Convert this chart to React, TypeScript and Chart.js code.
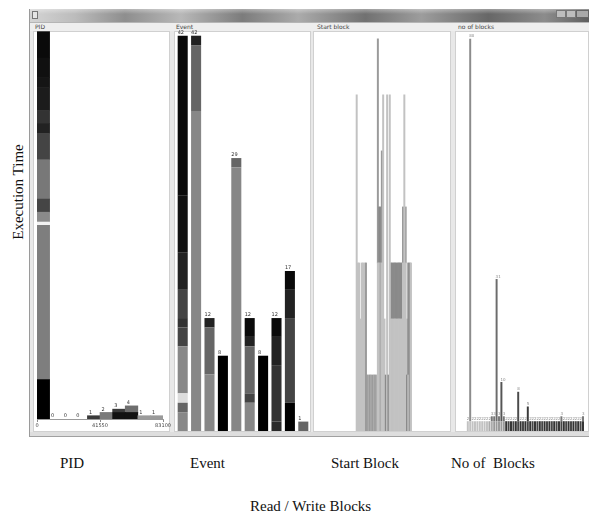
import React, { useEffect, useRef } from 'react';
import { Chart, registerables } from 'chart.js';

Chart.register(...registerables);

// ---------------- DATA ----------------
// PID histogram: 10 bins over 0..83100
const pidAxisMax = 83100;
const pidTickStep = 41550;
const pidBinCount = 10;
// stacked segments per bin (bottom -> top)
const pidSegments: number[][] = [
  [12, 47, 1, 3, 4, 12, 8, 3, 4, 7, 3, 6, 8],
  [],
  [],
  [],
  [1],
  [2],
  [2, 1],
  [2, 2],
  [1],
  [1],
];
const pidShades: string[][] = [
  ['#000000', '#7e7e7e', '#f2f2f2', '#8a8a8a', '#454545', '#787878', '#444444', '#222222', '#333333', '#1c1c1c', '#151515', '#101010', '#0a0a0a'],
  [],
  [],
  [],
  ['#3a3a3a'],
  ['#7a7a7a'],
  ['#111111', '#3a3a3a'],
  ['#111111', '#6e6e6e'],
  ['#9a9a9a'],
  ['#9a9a9a'],
];

// Event: 10 events
const eventNames = ['E1', 'E2', 'E3', 'E4', 'E5', 'E6', 'E7', 'E8', 'E9', 'E10'];
const eventSegments: number[][] = [
  [2, 1, 1, 5, 2, 1, 3, 4, 6, 17],
  [34, 7, 1],
  [6, 5, 1],
  [8],
  [28, 1],
  [3, 1, 5, 1, 2],
  [8],
  [1, 6, 3, 2],
  [3, 9, 3, 2],
  [1],
];
const eventShades: string[][] = [
  ['#888888', '#666666', '#dddddd', '#888888', '#444444', '#333333', '#444444', '#222222', '#111111', '#0a0a0a'],
  ['#878787', '#666666', '#222222'],
  ['#878787', '#666666', '#222222'],
  ['#000000'],
  ['#878787', '#666666'],
  ['#878787', '#444444', '#666666', '#222222', '#0a0a0a'],
  ['#000000'],
  ['#2a2a2a', '#333333', '#222222', '#0a0a0a'],
  ['#000000', '#444444', '#222222', '#0a0a0a'],
  ['#666666'],
];

// Start block histogram (42 occupied bins)
const startLower = [6, 3, 3, 2, 3, 3, 3, 3, 1, 1, 1, 1, 1, 1, 1, 1, 3, 3, 3, 3, 6, 2, 1, 6, 1, 6, 2, 2, 2, 2, 2, 2, 2, 2, 2, 3, 6, 3, 1, 1, 3, 3];
const startUpper = [0, 0, 0, 0, 0, 0, 0, 0, 0, 0, 0, 0, 0, 0, 0, 0, 4, 1, 1, 2, 0, 0, 0, 0, 0, 0, 1, 1, 1, 1, 1, 1, 1, 1, 1, 1, 0, 1, 1, 2, 0, 0];
const startLowerShade = ('LLLLLLL' + 'MMNMNMNMN' + 'LLNLLL' + 'DLDL' + 'LLLLLLLLLLLL' + 'DLML').split('');
const startUpperShade = ('----------------' + 'MDDM' + '------' + 'DDDDDDDDD' + 'M-MLD--').split('');
const startEmptyBefore = 31;
const startEmptyAfter = 29;

// No of blocks histogram (55 bins)
const blocksBase = [
  0, 0, 0, 0, 2, 2, 2, 2, 2, 2,
  2, 2, 2, 2, 2, 2, 2, 2, 2, 2,
  2, 2, 2, 2, 2, 2, 2, 2, 2, 2,
  2, 2, 2, 2, 2, 2, 2, 2, 2, 2,
  2, 2, 2, 2, 2, 2, 2, 2, 2, 2,
  2, 2, 2, 0, 0,
];
const blocksTop = [
  0, 0, 0, 0, 0, 78, 0, 0, 0, 0,
  0, 0, 0, 0, 1, 1, 29, 1, 8, 1,
  0, 0, 0, 0, 0, 6, 0, 0, 0, 3,
  0, 0, 0, 0, 0, 0, 0, 0, 0, 0,
  0, 0, 0, 1, 0, 0, 0, 0, 0, 0,
  0, 0, 1, 0, 0,
];
const blocksBaseShade = ('----' + 'LLLLLLLLL' + 'NN' + 'MMMMM' + 'KJKJKJKJKJKJKJKJKJKJKJKJKJKJKJKJK' + '--').split('');
const blocksTopShade = ('-----T----' + '----SSUSVS' + '-----W---X' + '----------' + '---S------' + '--S--').split('');

const shadePalette: Record<string, string> = {
  L: '#c2c2c2',
  M: '#9a9a9a',
  N: '#ababab',
  D: '#8a8a8a',
  K: '#333333',
  J: '#464646',
  T: '#8c8c8c',
  U: '#6c6c6c',
  V: '#555555',
  W: '#4a4a4a',
  X: '#3a3a3a',
  S: '#777777',
  '-': 'rgba(0,0,0,0)',
};

// ---------------- HELPERS ----------------
const padArr = (arr: any[], before: number, after: number, fill: any) => [
  ...Array(before).fill(fill),
  ...arr,
  ...Array(after).fill(fill),
];

function buildLayers(segments: number[][], shades: string[][], bar: number, xs?: number[]) {
  const depth = Math.max(1, ...segments.map((s) => s.length));
  const ds: any[] = [];
  for (let k = 0; k < depth; k++) {
    ds.push({
      data: segments.map((s, i) => (xs ? { x: xs[i], y: s[k] ?? 0 } : s[k] ?? 0)),
      backgroundColor: shades.map((s) => s[k] ?? 'rgba(0,0,0,0)'),
      borderWidth: 0,
      barPercentage: bar,
      categoryPercentage: 1,
      stack: 's',
    });
  }
  return ds;
}

function labelPlugin(totals: number[], size: number, color: string, dx: number, clip: boolean, skipZero: boolean) {
  return {
    id: 'barLabels',
    afterDatasetsDraw(chart: any) {
      const ctx = chart.ctx;
      const meta = chart.getDatasetMeta(0);
      const yScale = chart.scales.y;
      const area = chart.chartArea;
      ctx.save();
      if (clip) {
        ctx.beginPath();
        ctx.rect(area.left, area.top, area.right - area.left, area.bottom - area.top);
        ctx.clip();
      }
      ctx.font = `${size}px "DejaVu Sans"`;
      ctx.fillStyle = color;
      ctx.textAlign = 'left';
      ctx.textBaseline = 'bottom';
      totals.forEach((t, i) => {
        if (skipZero && t === 0) return;
        const el = meta.data[i];
        if (!el) return;
        const x = el.x - el.width / 2 + dx;
        const y = yScale.getPixelForValue(t) - 0.5;
        ctx.fillText(String(t), x, y);
      });
      ctx.restore();
    },
  };
}

const baseOptions = (ymax: number, padding: any) => ({
  responsive: false,
  maintainAspectRatio: false,
  animation: false,
  events: [],
  layout: { padding },
  plugins: { legend: { display: false }, tooltip: { enabled: false } },
  scales: {
    x: { display: false, stacked: true },
    y: { display: false, stacked: true, min: 0, max: ymax },
  },
});

function pidConfig() {
  const binW = pidAxisMax / pidBinCount;
  const xs = pidSegments.map((_, i) => binW * i + binW / 2);
  const totals = pidSegments.map((s) => s.reduce((a, b) => a + b, 0));
  const opts: any = baseOptions(118.2, { left: 7, right: 8, top: 7, bottom: 2 });
  opts.scales.x = {
    type: 'linear',
    display: true,
    stacked: true,
    offset: false,
    min: 0,
    max: pidAxisMax,
    ticks: {
      stepSize: pidTickStep,
      autoSkip: false,
      maxRotation: 0,
      padding: 1,
      color: '#444',
      font: { size: 5, family: 'DejaVu Sans' },
      callback: (v: any) => String(v),
    },
    grid: { drawOnChartArea: false, tickLength: 3, color: '#8a8a8a', offset: false },
    border: { color: '#9a9a9a' },
  };
  return {
    type: 'bar',
    data: { datasets: buildLayers(pidSegments, pidShades, 1, xs) },
    options: opts,
    plugins: [labelPlugin(totals, 5, '#333', 1.5, true, false)],
  };
}

function eventConfig() {
  const totals = eventSegments.map((s) => s.reduce((a, b) => a + b, 0));
  return {
    type: 'bar',
    data: { labels: eventNames, datasets: buildLayers(eventSegments, eventShades, 0.75) },
    options: baseOptions(42.5, { left: 0, right: 0, top: 7, bottom: 0 }),
    plugins: [labelPlugin(totals, 5, '#333', 0, false, false)],
  };
}

function startConfig() {
  const segs = padArr(
    startLower.map((v, i) => [v, startUpper[i]]),
    startEmptyBefore,
    startEmptyAfter,
    [0, 0]
  );
  const shades = padArr(
    startLowerShade.map((c, i) => [shadePalette[c], shadePalette[startUpperShade[i]]]),
    startEmptyBefore,
    startEmptyAfter,
    ['rgba(0,0,0,0)', 'rgba(0,0,0,0)']
  );
  return {
    type: 'bar',
    data: { labels: segs.map((_, i) => String(i)), datasets: buildLayers(segs, shades, 1) },
    options: baseOptions(7.14, { left: 0, right: 0, top: 7, bottom: 0 }),
    plugins: [],
  };
}

function blocksConfig() {
  const segs = blocksBase.map((v, i) => [v, blocksTop[i]]);
  const shades = blocksBaseShade.map((c, i) => [shadePalette[c], shadePalette[blocksTopShade[i]]]);
  const totals = segs.map((s) => s[0] + s[1]);
  return {
    type: 'bar',
    data: { labels: segs.map((_, i) => String(i)), datasets: buildLayers(segs, shades, 0.82) },
    options: baseOptions(81.6, { left: 0, right: 0, top: 7, bottom: 0 }),
    plugins: [labelPlugin(totals, 4, '#8a8a8a', 0, false, true)],
  };
}

function ChartBox(props: { left: number; top: number; width: number; height: number; make: () => any }) {
  const ref = useRef<HTMLCanvasElement | null>(null);
  useEffect(() => {
    if (!ref.current) return;
    const chart = new Chart(ref.current, props.make());
    return () => chart.destroy();
  }, []);
  return (
    <canvas
      ref={ref}
      width={props.width}
      height={props.height}
      style={{ position: 'absolute', left: props.left, top: props.top, width: props.width, height: props.height }}
    />
  );
}

const abs = (l: number, t: number, w: number, h: number, extra: any = {}) => ({
  position: 'absolute' as const,
  left: l,
  top: t,
  width: w,
  height: h,
  ...extra,
});

export default function App() {
  const small = { fontFamily: '"DejaVu Sans", sans-serif', fontSize: 6, color: '#444', lineHeight: '9px' };
  const serif = { fontFamily: '"Liberation Serif", "Times New Roman", serif', fontSize: 15, color: '#111', lineHeight: '18px', whiteSpace: 'nowrap' as const };
  return (
    <div style={abs(0, 0, 589, 514, { background: '#fff', overflow: 'hidden' })}>
      {/* window frame */}
      <div style={abs(29, 9, 560, 428, { background: '#e8e8e8', borderLeft: '1px solid #9a9a9a', boxSizing: 'border-box' })} />
      <div
        style={abs(30, 9, 559, 13, {
          background:
            'linear-gradient(90deg, #d4d4d4 0%, #bcbcbc 8%, #8e8e8e 17%, #b8b8b8 27%, #7c7c7c 38%, #ababab 48%, #717171 60%, #9d9d9d 70%, #676767 82%, #8c8c8c 92%, #5e5e5e 100%)',
        })}
      />
      <div style={abs(30, 9, 559, 5, { background: 'linear-gradient(180deg, rgba(255,255,255,0.35), rgba(255,255,255,0))' })} />
      <div style={abs(32, 11, 6, 8, { background: '#e6e6e6', border: '1px solid #777', boxSizing: 'border-box' })} />
      <div style={abs(556, 10, 10, 8, { background: '#bdbdbd', border: '1px solid #777', boxSizing: 'border-box' })} />
      <div style={abs(566, 10, 10, 8, { background: '#bdbdbd', border: '1px solid #777', boxSizing: 'border-box' })} />
      <div style={abs(576, 10, 13, 8, { background: '#a9a9a9', border: '1px solid #666', boxSizing: 'border-box' })} />
      {/* header strip */}
      <div style={abs(30, 22, 559, 9, { background: '#eeeeee', borderTop: '1px solid #b5b5b5', boxSizing: 'border-box' })} />
      <div style={abs(35, 22, 40, 9, small)}>PID</div>
      <div style={abs(176, 22, 40, 9, small)}>Event</div>
      <div style={abs(317, 22, 60, 9, small)}>Start block</div>
      <div style={abs(458, 22, 60, 9, small)}>no of blocks</div>
      {/* panel white areas */}
      <div style={abs(33, 31, 137, 401, { background: '#fff', border: '1px solid #d0d0d0', boxSizing: 'border-box' })} />
      <div style={abs(174, 31, 137, 401, { background: '#fff', border: '1px solid #d0d0d0', boxSizing: 'border-box' })} />
      <div style={abs(313, 31, 138, 401, { background: '#fff', border: '1px solid #d0d0d0', boxSizing: 'border-box' })} />
      <div style={abs(455, 31, 134, 401, { background: '#fff', border: '1px solid #d0d0d0', boxSizing: 'border-box' })} />
      {/* bottom frame */}
      <div style={abs(30, 432, 559, 5, { background: '#dedede', borderBottom: '1px solid #a0a0a0', boxSizing: 'border-box' })} />

      {/* charts */}
      <ChartBox left={30} top={24} width={142} height={408} make={pidConfig} />
      <ChartBox left={176} top={24} width={134} height={407} make={eventConfig} />
      <ChartBox left={315} top={24} width={135} height={407} make={startConfig} />
      <ChartBox left={457} top={24} width={132} height={407} make={blocksConfig} />

      {/* captions */}
      <div style={abs(-42, 183, 120, 18, { ...serif, textAlign: 'center', transform: 'rotate(-90deg)' })}>Execution Time</div>
      <div style={abs(60, 454, 60, 18, serif)}>PID</div>
      <div style={abs(190, 454, 60, 18, serif)}>Event</div>
      <div style={abs(331, 454, 90, 18, serif)}>Start Block</div>
      <div style={abs(451, 454, 100, 18, serif)}>No of&nbsp; Blocks</div>
      <div style={abs(250, 497, 140, 18, serif)}>Read / Write Blocks</div>
    </div>
  );
}
